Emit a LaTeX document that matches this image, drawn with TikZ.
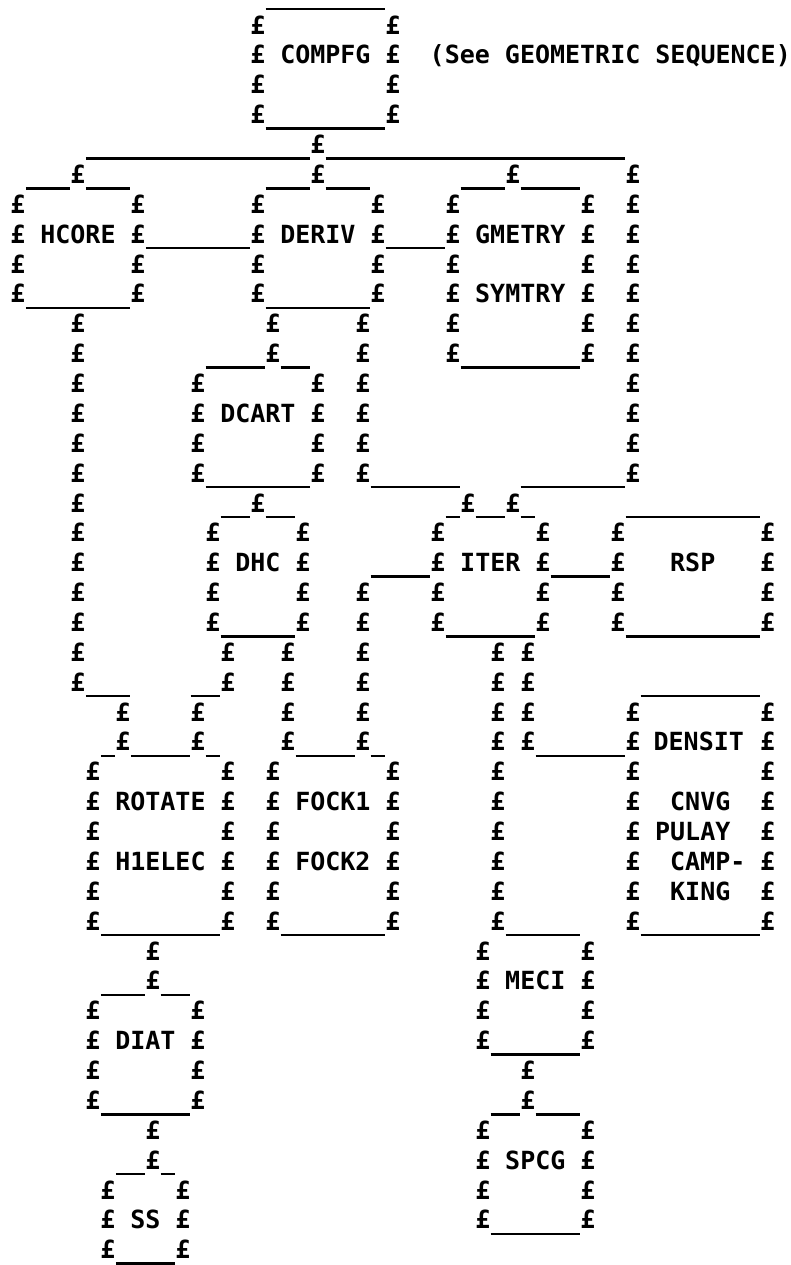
\documentclass[tikz,border=0pt]{standalone}
\usepackage{fontspec}
\newfontfamily\typefont{DejaVu Sans Mono}
% a column of pound signs: \pcol{column}{first row}{last row}
\newcommand\pcol[3]{\foreach \rw in {#2,...,#3}{\node[sterling] (p-#1-\rw) at (#1,\rw) {£};}}
% a run of underscores: \urun{row}{first column}{last column}
\newcommand\urun[3]{\draw[uscore] (#2-0.48,#1+0.47) -- (#3+0.48,#1+0.47);}
\begin{document}
\begin{tikzpicture}[x=15pt,y=-29.88pt,
  sterling/.style={font=\typefont\bfseries\fontsize{25}{25}\selectfont,inner sep=0pt,text height=18.2pt,text depth=0pt},
  routine/.style={font=\typefont\bfseries\fontsize{25}{25}\selectfont,inner sep=0pt,text height=18.2pt,text depth=0pt},
  uscore/.style={line width=2.6pt}]
  \fill[white] (-1.2,0.163) rectangle (51.333,42.5);
  % COMPFG
  \urun{0}{17}{24}
  \pcol{16}{1}{4} \pcol{25}{1}{4} \urun{4}{17}{24}
  \node[routine] (compfg) at (20.5,2) {COMPFG};
  \node[routine] (seenote) at (39.5,2) {(See GEOMETRIC SEQUENCE)};
  \urun{5}{5}{19} \pcol{20}{5}{5} \urun{5}{21}{40}
  % HCORE
  \urun{6}{1}{3} \pcol{4}{6}{6} \urun{6}{5}{7}
  \pcol{0}{7}{10} \pcol{8}{7}{10} \urun{10}{1}{7}
  \node[routine] (hcore) at (4,8) {HCORE};
  \urun{8}{9}{15}
  % DERIV
  \urun{6}{17}{19} \pcol{20}{6}{6} \urun{6}{21}{23}
  \pcol{16}{7}{10} \pcol{24}{7}{10} \urun{10}{17}{23}
  \node[routine] (deriv) at (20,8) {DERIV};
  \urun{8}{25}{28}
  % GMETRY
  \urun{6}{30}{32} \pcol{33}{6}{6} \urun{6}{34}{37}
  \pcol{29}{7}{12} \pcol{38}{7}{12} \urun{12}{30}{37}
  \node[routine] (gmetry) at (33.5,8) {GMETRY};
  \node[routine] (symtry) at (33.5,10) {SYMTRY};
  \pcol{41}{6}{16} \urun{16}{34}{40}
  % DCART
  \pcol{17}{11}{12} \urun{12}{13}{16} \urun{12}{18}{19}
  \pcol{12}{13}{16} \pcol{20}{13}{16} \urun{16}{13}{19}
  \node[routine] (dcart) at (16,14) {DCART};
  \pcol{23}{11}{16} \urun{16}{24}{29}
  % DHC
  \urun{17}{14}{15} \pcol{16}{17}{17} \urun{17}{17}{18}
  \pcol{13}{18}{21} \pcol{19}{18}{21} \urun{21}{14}{18}
  \node[routine] (dhc) at (16,19) {DHC};
  \pcol{14}{22}{23} \urun{23}{12}{13} \pcol{18}{22}{25}
  % ITER
  \urun{17}{29}{29} \pcol{30}{17}{17} \urun{17}{31}{32} \pcol{33}{17}{17} \urun{17}{34}{34}
  \pcol{28}{18}{21} \pcol{35}{18}{21} \urun{21}{29}{34}
  \node[routine] (iter) at (31.5,19) {ITER};
  \urun{19}{24}{27} \urun{19}{36}{39}
  \pcol{23}{20}{25}
  % RSP
  \urun{17}{41}{49} \pcol{40}{18}{21} \pcol{50}{18}{21} \urun{21}{41}{49}
  \node[routine] (rsp) at (45,19) {RSP};
  % DENSIT
  \pcol{32}{22}{31} \pcol{34}{22}{25} \urun{25}{35}{40}
  \urun{23}{42}{49} \pcol{41}{24}{31} \pcol{50}{24}{31} \urun{31}{42}{49}
  \node[routine] (densit) at (45.4,25) {DENSIT};
  \node[routine] (cnvg) at (45.5,27) {CNVG};
  \node[routine] (pulay) at (45,28) {PULAY};
  \node[routine] (camp) at (46,29) {CAMP-};
  \node[routine] (king) at (45.5,30) {KING};
  % ROTATE
  \pcol{4}{11}{23} \urun{23}{5}{7} \pcol{7}{24}{25} \pcol{12}{24}{25}
  \urun{25}{6}{6} \urun{25}{8}{11} \urun{25}{13}{13}
  \pcol{5}{26}{31} \pcol{14}{26}{31} \urun{31}{6}{13}
  \node[routine] (rotate) at (9.5,27) {ROTATE};
  \node[routine] (hielec) at (9.5,29) {H1ELEC};
  % FOCK
  \urun{25}{19}{22} \urun{25}{24}{24}
  \pcol{17}{26}{31} \pcol{25}{26}{31} \urun{31}{18}{24}
  \node[routine] (fockone) at (21,27) {FOCK1};
  \node[routine] (focktwo) at (21,29) {FOCK2};
  % DIAT
  \pcol{9}{32}{33} \urun{33}{6}{8} \urun{33}{10}{11}
  \pcol{5}{34}{37} \pcol{12}{34}{37} \urun{37}{6}{11}
  \node[routine] (diat) at (8.5,35) {DIAT};
  % SS
  \pcol{9}{38}{39} \urun{39}{7}{8} \urun{39}{10}{10}
  \pcol{6}{40}{42} \pcol{11}{40}{42} \urun{42}{7}{10}
  \node[routine] (ss) at (8.5,41) {SS};
  % MECI
  \urun{31}{33}{37}
  \pcol{31}{32}{35} \pcol{38}{32}{35} \urun{35}{32}{37}
  \node[routine] (meci) at (34.5,33) {MECI};
  % SPCG
  \pcol{34}{36}{37} \urun{37}{32}{33} \urun{37}{35}{37}
  \pcol{31}{38}{41} \pcol{38}{38}{41} \urun{41}{32}{37}
  \node[routine] (spcg) at (34.5,39) {SPCG};
\end{tikzpicture}
\end{document}
